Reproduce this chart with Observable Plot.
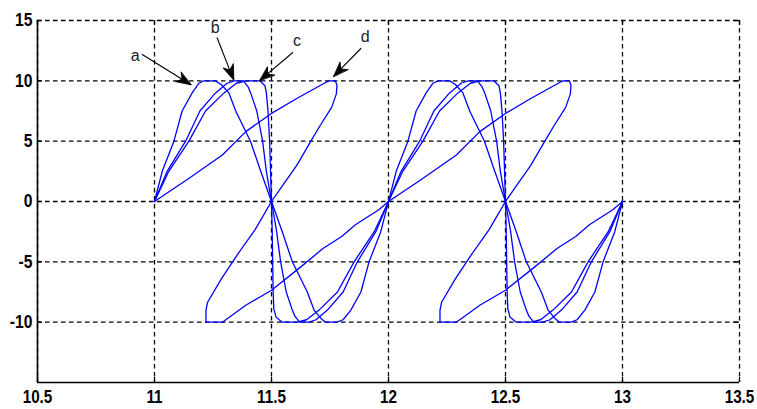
<!DOCTYPE html>
<html>
<head>
<meta charset="utf-8">
<script src="https://cdn.jsdelivr.net/npm/d3@7"></script>
<script src="https://cdn.jsdelivr.net/npm/@observablehq/plot@0.6"></script>
<style>
  html, body { margin: 0; padding: 0; background: #fff; }
  #chart { width: 757px; height: 409px; overflow: hidden; }
</style>
</head>
<body>
<div id="chart"></div>
<script>
// ---------- data ----------
const xDomain = [10.5, 13.5];
const yDomain = [-15, 15];
const xTicks = [10.5, 11, 11.5, 12, 12.5, 13, 13.5];
const yTicks = [-10, -5, 0, 5, 10, 15];

const aX = [11.000, 11.033, 11.083, 11.118, 11.161, 11.190, 11.210, 11.260, 11.285, 11.318, 11.347, 11.410, 11.454, 11.500,
            11.546, 11.589, 11.653, 11.682, 11.712, 11.730, 11.780, 11.806, 11.839, 11.882, 11.917, 11.967, 12.000,
            12.033, 12.083, 12.118, 12.161, 12.190, 12.212, 12.262, 12.286, 12.318, 12.347, 12.410, 12.454, 12.500,
            12.546, 12.589, 12.653, 12.682, 12.712, 12.730, 12.780, 12.806, 12.839, 12.882, 12.917, 12.967, 13.000];
const aY = [0, 2.5, 5, 7.5, 9, 9.8, 10, 10, 9.7, 9, 7.5, 5, 2.5, 0,
            -2.5, -5, -7.5, -9, -9.7, -10, -10, -9.8, -9, -7.5, -5, -2.5, 0,
            2.5, 5, 7.5, 9, 9.8, 10, 10, 9.7, 9, 7.5, 5, 2.5, 0,
            -2.5, -5, -7.5, -9, -9.7, -10, -10, -9.8, -9, -7.5, -5, -2.5, 0];

const bX = [11.000, 11.054, 11.133, 11.194, 11.261, 11.310, 11.340, 11.380, 11.400, 11.411, 11.437, 11.462, 11.478, 11.500,
            11.522, 11.539, 11.563, 11.589, 11.600, 11.620, 11.660, 11.690, 11.739, 11.806, 11.867, 11.946, 12.000,
            12.054, 12.133, 12.194, 12.261, 12.310, 12.340, 12.380, 12.400, 12.411, 12.437, 12.462, 12.478, 12.500,
            12.522, 12.539, 12.563, 12.589, 12.600, 12.620, 12.660, 12.690, 12.739, 12.806, 12.867, 12.946, 13.000];
const bY = [0, 2.5, 5, 7.5, 9, 9.8, 10, 10, 9.5, 9, 7.5, 5, 2.5, 0,
            -2.5, -5, -7.5, -9, -9.5, -10, -10, -9.8, -9, -7.5, -5, -2.5, 0,
            2.5, 5, 7.5, 9, 9.8, 10, 10, 9.5, 9, 7.5, 5, 2.5, 0,
            -2.5, -5, -7.5, -9, -9.5, -10, -10, -9.8, -9, -7.5, -5, -2.5, 0];

const cX = [11.000, 11.061, 11.147, 11.218, 11.297, 11.350, 11.390, 11.450, 11.472, 11.478, 11.485, 11.492, 11.496, 11.500,
            11.503, 11.505, 11.507, 11.510, 11.520, 11.546, 11.610, 11.650, 11.703, 11.782, 11.853, 11.939, 12.000,
            12.061, 12.147, 12.218, 12.297, 12.350, 12.390, 12.450, 12.472, 12.478, 12.485, 12.492, 12.496, 12.500,
            12.503, 12.505, 12.507, 12.510, 12.520, 12.546, 12.610, 12.650, 12.703, 12.782, 12.853, 12.939, 13.000];
const cY = [0, 2.5, 5, 7.5, 9, 9.8, 10, 10, 9.6, 9, 7.5, 5, 2.5, 0,
            -2.5, -5, -7.5, -8.9, -9.6, -10, -10, -9.8, -9, -7.5, -5, -2.5, 0,
            2.5, 5, 7.5, 9, 9.8, 10, 10, 9.6, 9, 7.5, 5, 2.5, 0,
            -2.5, -5, -7.5, -8.9, -9.6, -10, -10, -9.8, -9, -7.5, -5, -2.5, 0];

const dX = [11.000, 11.148, 11.290, 11.390, 11.500, 11.608, 11.737, 11.745, 11.773, 11.780, 11.777, 11.757, 11.708, 11.665, 11.608, 11.550, 11.500,
            11.430, 11.350, 11.285, 11.227, 11.220, 11.220, 11.290, 11.390, 11.500, 11.620, 11.720, 11.800, 11.860, 11.957, 12.000,
            12.148, 12.290, 12.390, 12.500, 12.608, 12.737, 12.745, 12.773, 12.780, 12.777, 12.757, 12.708, 12.665, 12.608, 12.550, 12.500,
            12.430, 12.350, 12.285, 12.227, 12.220, 12.220, 12.290, 12.390, 12.500, 12.620, 12.720, 12.800, 12.860, 12.957, 13.000];
const dY = [0, 1.93, 3.86, 5.79, 7.3, 8.54, 9.92, 10, 10, 9.6, 8.9, 7.8, 6.3, 4.9, 3.0, 1.4, 0,
            -2.33, -4.52, -6.43, -8.35, -9, -10, -10, -8.6, -7.35, -5.5, -3.9, -2.9, -1.9, -0.7, 0,
            1.93, 3.86, 5.79, 7.3, 8.54, 9.92, 10, 10, 9.6, 8.9, 7.8, 6.3, 4.9, 3.0, 1.4, 0,
            -2.33, -4.52, -6.43, -8.35, -9, -10, -10, -8.6, -7.35, -5.5, -3.9, -2.9, -1.9, -0.7, 0];

const labelText = ["a", "b", "c", "d"];
const labelX = [10.918, 11.259, 11.609, 11.900];
const labelY = [12.07, 14.42, 13.34, 13.61];
const arrowX1 = [10.946, 11.267, 11.592, 11.883];
const arrowY1 = [12.20, 13.59, 12.37, 12.70];
const arrowX2 = [11.156, 11.338, 11.449, 11.765];
const arrowY2 = [9.67, 10.08, 10.02, 10.36];

// ---------- build tables ----------
const series = {a: [aX, aY], b: [bX, bY], c: [cX, cY], d: [dX, dY]};
const points = [];
for (const [name, [xs, ys]] of Object.entries(series)) {
  xs.forEach((x, i) => points.push({curve: name, x, y: ys[i]}));
}

const W = 757, H = 409, ML = 37, MR = 18, MT = 20, MB = 27;
const kx = (W - ML - MR) / (xDomain[1] - xDomain[0]);
const ky = (H - MT - MB) / (yDomain[1] - yDomain[0]);
const notes = labelText.map((t, i) => ({
  t, lx: labelX[i], ly: labelY[i],
  x1: arrowX1[i], y1: arrowY1[i], x2: arrowX2[i], y2: arrowY2[i],
  angle: Math.atan2((arrowX2[i] - arrowX1[i]) * kx, (arrowY2[i] - arrowY1[i]) * ky) * 180 / Math.PI
}));

const tickFont = "'Liberation Sans', Arial, sans-serif";
const innerW = W - ML - MR, innerH = H - MT - MB;

const barbed = {
  draw(context, l, r) {
    context.moveTo(0, -l);
    context.lineTo(r, 0);
    context.lineTo(0, -l * 0.3);
    context.lineTo(-r, 0);
    context.closePath();
  }
};

function build(useVector) {
  const head = useVector
    ? Plot.vector(notes, {x: "x2", y: "y2", rotate: "angle", length: 15, r: 5.5, anchor: "end",
        shape: barbed, fill: "black", stroke: "black", strokeWidth: 0.8})
    : Plot.arrow(notes, {x1: "x1", y1: "y1", x2: "x2", y2: "y2", stroke: "black", strokeWidth: 2, headLength: 14, headAngle: 40});
  return Plot.plot({
    width: W, height: H,
    marginLeft: ML, marginRight: MR, marginTop: MT, marginBottom: MB,
    style: {background: "white", color: "black", overflow: "visible"},
    x: {domain: xDomain, label: null},
    y: {domain: yDomain, label: null},
    marks: [
      Plot.gridX(xTicks, {stroke: "black", strokeOpacity: 1, strokeWidth: 1.3, strokeDasharray: "4.5,3.5"}),
      Plot.gridY(yTicks, {stroke: "black", strokeOpacity: 1, strokeWidth: 1.3, strokeDasharray: "4.5,3.5"}),
      Plot.tickX(xTicks, {x: d => d, insetTop: innerH - 5, stroke: "black", strokeWidth: 1.3}),
      Plot.tickX(xTicks, {x: d => d, insetBottom: innerH - 5, stroke: "black", strokeWidth: 1.3}),
      Plot.tickY(yTicks, {y: d => d, insetRight: innerW - 5, stroke: "black", strokeWidth: 1.3}),
      Plot.tickY(yTicks, {y: d => d, insetLeft: innerW - 5, stroke: "black", strokeWidth: 1.3}),
      Plot.ruleX([xDomain[0]], {stroke: "black", strokeWidth: 1.6}),
      Plot.ruleY([yDomain[0]], {stroke: "black", strokeWidth: 1.6}),
      Plot.axisX(xTicks, {tickSize: 0, tickPadding: 8, tickFormat: d => String(d),
        fontSize: 17.5, fontWeight: "bold", fontFamily: tickFont, label: null}),
      Plot.axisY(yTicks, {tickSize: 0, tickPadding: 5, tickFormat: d => String(d),
        fontSize: 18, fontWeight: "bold", fontFamily: tickFont, label: null}),
      Plot.line(points, {x: "x", y: "y", z: "curve", stroke: "#0000ff", strokeWidth: 1.3, curve: "linear"}),
      Plot.link(notes, {x1: "x1", y1: "y1", x2: "x2", y2: "y2", stroke: "black", strokeWidth: 1.1}),
      head,
      Plot.text(notes, {x: "lx", y: "ly", text: "t", fontSize: 16, fontFamily: "'Liberation Sans', Arial, sans-serif",
        fill: "#222"})
    ]
  });
}

let chart;
try { chart = build(true); } catch (e) { chart = build(false); }
document.getElementById("chart").append(chart);

// condense the bold tick labels horizontally (the reference uses a narrow face)
d3.select(chart).selectAll('g[aria-label="x-axis tick label"] text, g[aria-label="y-axis tick label"] text')
  .each(function() {
    const t = this.getAttribute("transform") || "";
    this.setAttribute("transform", (t + " scale(0.87,1)").trim());
    const x = this.getAttribute("x");
    if (x != null) this.setAttribute("x", +x / 0.87);
  });
</script>
</body>
</html>
